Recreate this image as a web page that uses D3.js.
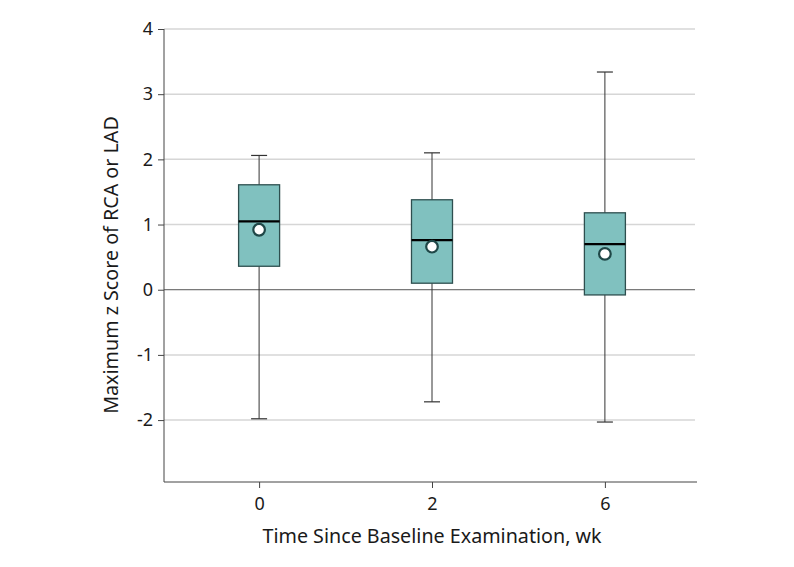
<!DOCTYPE html>
<html><head><meta charset="utf-8">
<script src="https://cdn.jsdelivr.net/npm/d3@7"></script>
<style>body{margin:0;background:#fff;} text{font-family:"Noto Sans",sans-serif;fill:#1a1a1a;}</style>
</head><body><svg id="c" width="794" height="567"></svg>
<script>
const categories = ["0", "2", "6"];
const whiskerLow = [-1.98, -1.72, -2.03];
const q1 = [0.36, 0.10, -0.08];
const median = [1.05, 0.76, 0.70];
const q3 = [1.61, 1.38, 1.18];
const whiskerHigh = [2.06, 2.10, 3.34];
const means = [0.92, 0.66, 0.55];
const yTicks = [4, 3, 2, 1, 0, -1, -2];

const svg = d3.select("#c");
const pLeft = 164, pRight = 700, pTop = 29, pBottom = 482;
const y = d3.scaleLinear().domain([-2.95, 4]).range([pBottom, pTop]);
const x = d3.scalePoint().domain(categories).range([pLeft, pRight]).padding(0.55);

// gridlines
svg.append("g").selectAll("line").data(yTicks.filter(d => d !== 0)).join("line")
  .attr("x1", pLeft).attr("x2", 695).attr("y1", d => y(d)).attr("y2", d => y(d))
  .attr("stroke", "#d6d6d6").attr("stroke-width", 1.5);
svg.append("line").attr("x1", pLeft).attr("x2", 695).attr("y1", y(0)).attr("y2", y(0))
  .attr("stroke", "#555").attr("stroke-width", 1);

// axes
const yAxis = svg.append("g").attr("transform", `translate(${pLeft},0)`)
  .call(d3.axisLeft(y).tickValues(yTicks).tickSize(6).tickPadding(5).tickFormat(d => d < 0 ? "-" + Math.abs(d) : d));
yAxis.select(".domain").remove();
yAxis.append("line").attr("x1", 0).attr("x2", 0).attr("y1", pTop).attr("y2", pBottom).attr("stroke", "#444");
yAxis.selectAll(".tick line").attr("stroke", "#444");
yAxis.selectAll("text").attr("font-size", 18).attr("fill", "#1a1a1a").attr("font-family", "Noto Sans");

const xAxis = svg.append("g").attr("transform", `translate(0,${pBottom})`)
  .call(d3.axisBottom(x).tickSize(6).tickPadding(9));
xAxis.select(".domain").remove();
xAxis.append("line").attr("x1", pLeft).attr("x2", pRight - 3).attr("y1", 0).attr("y2", 0).attr("stroke", "#444");
xAxis.selectAll(".tick line").attr("stroke", "#444");
xAxis.selectAll("text").attr("font-size", 18).attr("fill", "#1a1a1a").attr("font-family", "Noto Sans");

const bw = 41, cap = 16;
const g = svg.append("g").selectAll("g").data(categories).join("g");
g.append("line").attr("x1", d => x(d)).attr("x2", d => x(d))
  .attr("y1", (d, i) => y(whiskerLow[i])).attr("y2", (d, i) => y(whiskerHigh[i]))
  .attr("stroke", "#333").attr("stroke-width", 1);
g.append("line").attr("x1", d => x(d) - cap/2).attr("x2", d => x(d) + cap/2)
  .attr("y1", (d, i) => y(whiskerHigh[i])).attr("y2", (d, i) => y(whiskerHigh[i]))
  .attr("stroke", "#333").attr("stroke-width", 1.2);
g.append("line").attr("x1", d => x(d) - cap/2).attr("x2", d => x(d) + cap/2)
  .attr("y1", (d, i) => y(whiskerLow[i])).attr("y2", (d, i) => y(whiskerLow[i]))
  .attr("stroke", "#333").attr("stroke-width", 1.2);
g.append("rect").attr("x", d => x(d) - bw/2).attr("width", bw)
  .attr("y", (d, i) => y(q3[i])).attr("height", (d, i) => y(q1[i]) - y(q3[i]))
  .attr("fill", "#80c1bf").attr("stroke", "#2e4f4f").attr("stroke-width", 1.3);
g.append("line").attr("x1", d => x(d) - bw/2).attr("x2", d => x(d) + bw/2)
  .attr("y1", (d, i) => y(median[i])).attr("y2", (d, i) => y(median[i]))
  .attr("stroke", "#000").attr("stroke-width", 2.2);
g.append("circle").attr("cx", d => x(d)).attr("cy", (d, i) => y(means[i])).attr("r", 5.8)
  .attr("fill", "#fff").attr("stroke", "#1f4747").attr("stroke-width", 2.2);

svg.append("text").attr("x", (pLeft + pRight) / 2).attr("y", 543).attr("text-anchor", "middle")
  .attr("font-size", 19.7).text("Time Since Baseline Examination, wk");
svg.append("text").attr("transform", "translate(118,265) rotate(-90)").attr("text-anchor", "middle")
  .attr("font-size", 19.7).text("Maximum z Score of RCA or LAD");
</script></body></html>
